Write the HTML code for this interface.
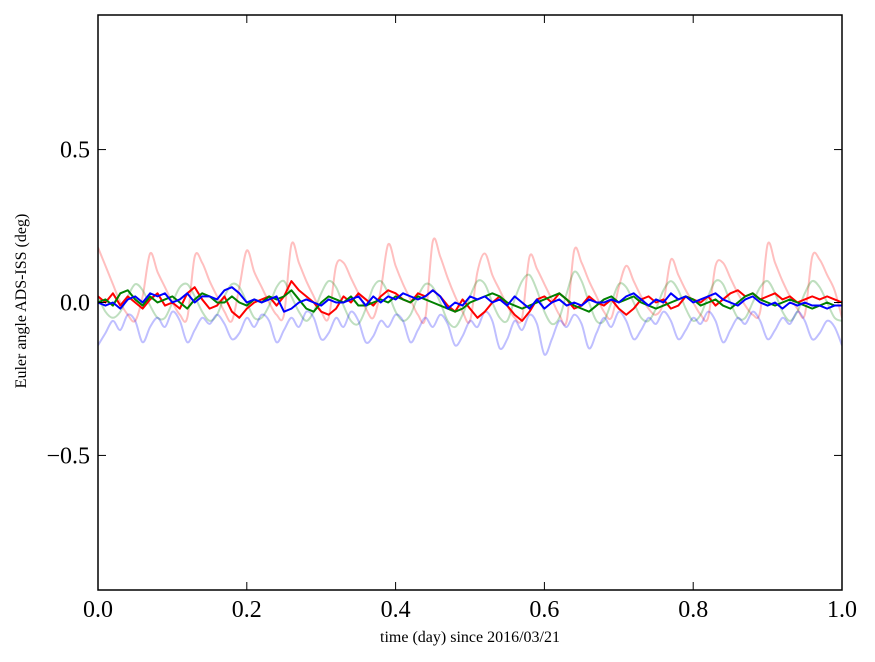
<!DOCTYPE html>
<html><head><meta charset="utf-8"><style>
html,body{margin:0;padding:0;background:#fff;}
svg{display:block;font-family:"Liberation Serif",serif;}
</style></head><body>
<svg id="chart" width="875" height="662"></svg>
<script>
const xTicks=[0.0,0.2,0.4,0.6,0.8,1.0];
const xTickLabels=["0.0","0.2","0.4","0.6","0.8","1.0"];
const yTicks=[-0.5,0.0,0.5];
const yTickLabels=["\u22120.5","0.0","0.5"];
const faintRed=[0.18,0.12,0.06,0.0,-0.04,-0.06,0.02,0.16,0.10,0.05,0.0,-0.04,-0.05,0.15,0.13,0.07,0.02,-0.03,-0.06,0.05,0.17,0.10,0.05,0.0,-0.04,-0.04,0.19,0.13,0.07,0.02,-0.03,-0.05,0.12,0.13,0.08,0.03,-0.02,-0.05,0.04,0.19,0.12,0.06,0.01,-0.04,-0.05,0.20,0.15,0.08,0.02,-0.03,-0.06,0.10,0.16,0.09,0.04,-0.01,-0.05,-0.05,0.15,0.11,0.06,0.01,-0.04,-0.06,0.17,0.13,0.07,0.02,-0.03,-0.05,0.05,0.12,0.07,0.02,-0.02,-0.04,0.0,0.14,0.09,0.04,0.0,-0.04,-0.05,0.12,0.13,0.08,0.03,-0.01,-0.04,-0.03,0.19,0.13,0.07,0.02,-0.02,-0.04,0.15,0.14,0.09,0.04,-0.05];
const faintGreen=[0.02,-0.03,-0.05,-0.03,0.02,0.06,0.04,-0.01,-0.05,-0.05,0.0,0.05,0.06,0.02,-0.03,-0.06,-0.04,0.02,0.06,0.05,0.0,-0.05,-0.05,-0.01,0.05,0.07,0.02,-0.03,-0.06,-0.03,0.03,0.07,0.05,-0.01,-0.06,-0.07,-0.02,0.05,0.07,0.03,-0.03,-0.06,-0.04,0.02,0.06,0.05,0.0,-0.06,-0.08,-0.04,0.02,0.07,0.06,0.0,-0.05,-0.06,0.01,0.07,0.09,0.04,-0.03,-0.07,-0.05,0.03,0.10,0.07,0.0,-0.06,-0.06,0.0,0.06,0.05,0.0,-0.05,-0.06,-0.02,0.04,0.07,0.04,-0.02,-0.06,-0.04,0.02,0.07,0.06,0.0,-0.05,-0.05,0.0,0.05,0.07,0.03,-0.03,-0.06,-0.03,0.03,0.07,0.05,0.0,-0.05,-0.06];
const faintBlue=[-0.14,-0.10,-0.06,-0.09,-0.04,-0.06,-0.13,-0.08,-0.05,-0.08,-0.03,-0.06,-0.13,-0.09,-0.05,-0.07,-0.04,-0.07,-0.12,-0.10,-0.05,-0.08,-0.04,-0.06,-0.13,-0.09,-0.05,-0.08,-0.03,-0.05,-0.12,-0.10,-0.05,-0.08,-0.03,-0.06,-0.13,-0.11,-0.06,-0.08,-0.04,-0.06,-0.13,-0.09,-0.05,-0.08,-0.04,-0.07,-0.14,-0.11,-0.06,-0.08,-0.03,-0.06,-0.15,-0.12,-0.06,-0.09,-0.04,-0.07,-0.17,-0.12,-0.06,-0.08,-0.04,-0.07,-0.15,-0.10,-0.05,-0.08,-0.03,-0.06,-0.12,-0.09,-0.05,-0.07,-0.03,-0.06,-0.12,-0.09,-0.05,-0.07,-0.03,-0.06,-0.13,-0.09,-0.05,-0.07,-0.03,-0.06,-0.12,-0.09,-0.05,-0.07,-0.03,-0.06,-0.12,-0.10,-0.06,-0.08,-0.14];
const solidRed=[0.02,0.0,0.03,-0.01,0.02,0.0,-0.02,0.01,0.03,-0.01,0.0,-0.02,0.03,0.05,0.01,-0.02,-0.01,0.02,-0.03,-0.05,-0.02,0.0,0.01,0.02,-0.01,0.02,0.07,0.04,0.02,0.0,-0.03,-0.04,-0.02,0.02,0.0,0.03,0.01,-0.01,0.02,0.04,0.03,0.01,0.0,0.03,0.02,0.04,0.02,-0.01,-0.03,0.01,-0.02,-0.05,-0.03,0.0,0.02,-0.01,-0.04,-0.06,-0.03,0.01,0.02,0.0,0.03,0.01,-0.02,-0.01,0.02,0.0,-0.01,0.01,-0.02,-0.04,-0.02,0.01,0.02,0.0,0.01,-0.02,-0.01,0.02,0.01,0.0,0.02,-0.01,0.01,0.03,0.04,0.02,0.03,0.01,0.02,0.03,0.01,0.02,0.0,0.01,0.02,0.01,0.02,0.01,0.0];
const solidGreen=[0.0,0.01,-0.01,0.03,0.04,0.01,-0.01,0.02,0.0,0.01,0.02,0.0,-0.02,0.01,0.03,0.02,0.0,0.0,0.02,0.0,-0.01,0.01,0.0,0.02,0.01,0.02,0.04,0.01,-0.02,-0.03,0.0,0.02,0.01,0.0,0.02,-0.01,-0.01,0.0,0.01,0.0,0.02,0.01,0.0,0.02,0.01,0.0,-0.01,-0.02,-0.03,-0.02,0.0,0.01,0.02,0.03,0.02,0.0,-0.01,-0.02,-0.01,0.0,0.01,0.02,0.03,0.01,-0.01,-0.02,-0.03,-0.01,0.01,0.02,0.0,0.01,0.02,0.0,-0.01,-0.02,-0.01,0.0,0.01,0.02,0.01,-0.01,0.0,0.01,-0.01,-0.02,0.0,0.02,0.03,0.01,0.0,-0.01,0.0,0.01,0.0,-0.01,-0.02,-0.01,0.0,-0.01,-0.01];
const solidBlue=[0.0,-0.01,0.0,-0.02,0.01,0.02,0.0,0.03,0.02,0.03,0.0,0.01,0.03,0.0,0.02,0.02,0.01,0.04,0.05,0.03,0.0,0.01,0.0,0.01,0.02,-0.03,-0.02,0.0,0.01,0.0,-0.01,0.01,0.0,0.0,0.01,0.02,-0.01,0.02,0.0,0.02,0.01,0.03,0.02,0.01,0.02,0.04,0.02,-0.02,0.0,-0.01,0.02,0.01,0.02,0.0,0.01,-0.01,0.02,0.0,-0.02,0.01,-0.02,0.0,0.01,-0.01,0.0,-0.01,0.01,0.0,0.0,0.01,0.0,0.02,0.03,0.01,-0.01,0.01,0.0,0.03,0.01,0.02,0.0,0.01,0.02,0.03,0.01,0.0,-0.01,0.01,0.02,0.0,-0.01,0.0,-0.02,0.0,-0.01,0.0,-0.01,-0.01,-0.02,-0.01,-0.01];

const NS="http://www.w3.org/2000/svg";
const svg=document.getElementById('chart');
const L=98,R=842,T=15,B=590;
const xMin=0,xMax=1,yMin=-0.94,yMax=0.94;
function sx(v){return L+(v-xMin)/(xMax-xMin)*(R-L);}
function sy(v){return B-(v-yMin)/(yMax-yMin)*(B-T);}
function mk(tag,attrs){const e=document.createElementNS(NS,tag);for(const k in attrs)e.setAttribute(k,attrs[k]);svg.appendChild(e);return e;}

const clip=document.createElementNS(NS,'clipPath');clip.setAttribute('id','pa');
const cr=document.createElementNS(NS,'rect');cr.setAttribute('x',L);cr.setAttribute('y',T);cr.setAttribute('width',R-L);cr.setAttribute('height',B-T);
clip.appendChild(cr);svg.appendChild(clip);

function series(arr,color,op,name,smooth){
  const n=arr.length;
  const pts=arr.map((v,i)=>[sx(xMin+i/(n-1)*(xMax-xMin)),sy(v)]);
  let d='M'+pts[0][0].toFixed(2)+','+pts[0][1].toFixed(2);
  for(let i=1;i<n;i++){
    if(smooth){
      const p0=pts[Math.max(0,i-2)],p1=pts[i-1],p2=pts[i],p3=pts[Math.min(n-1,i+1)];
      const c1x=p1[0]+(p2[0]-p0[0])/6,c1y=p1[1]+(p2[1]-p0[1])/6;
      const c2x=p2[0]-(p3[0]-p1[0])/6,c2y=p2[1]-(p3[1]-p1[1])/6;
      d+='C'+c1x.toFixed(2)+','+c1y.toFixed(2)+' '+c2x.toFixed(2)+','+c2y.toFixed(2)+' '+p2[0].toFixed(2)+','+p2[1].toFixed(2);
    } else d+='L'+pts[i][0].toFixed(2)+','+pts[i][1].toFixed(2);
  }
  const p=mk('path',{d:d,fill:'none',stroke:color,'stroke-width':2,'stroke-opacity':op,'stroke-linejoin':'round','clip-path':'url(#pa)'});
  
  
}
series(faintRed,'#ff0000',0.25,'faint-red-series',true);
series(faintGreen,'#008000',0.25,'faint-green-series',true);
series(faintBlue,'#0000ff',0.25,'faint-blue-series',true);
series(solidRed,'#ff0000',1,'red-series',false);
series(solidGreen,'#008000',1,'green-series',false);
series(solidBlue,'#0000ff',1,'blue-series',false);

const frame=mk('rect',{x:L,y:T,width:R-L,height:B-T,fill:'none',stroke:'#000','stroke-width':1.5});



xTicks.forEach((v,i)=>{
  const x=sx(v);
  const t1=mk('line',{x1:x,y1:B,x2:x,y2:B-8,stroke:'#000','stroke-width':1});
  
  
  const t2=mk('line',{x1:x,y1:T,x2:x,y2:T+8,stroke:'#000','stroke-width':1});
  
  
  const tx=mk('text',{x:x,y:B+27,'text-anchor':'middle','font-size':24,fill:'#000'});
  tx.textContent=xTickLabels[i];
  
  
});
yTicks.forEach((v,i)=>{
  const y=sy(v);
  const t1=mk('line',{x1:L,y1:y,x2:L+8,y2:y,stroke:'#000','stroke-width':1});
  
  
  const t2=mk('line',{x1:R,y1:y,x2:R-8,y2:y,stroke:'#000','stroke-width':1});
  
  
  const tx=mk('text',{x:L-8,y:y+8,'text-anchor':'end','font-size':24,fill:'#000'});
  tx.textContent=yTickLabels[i];
  
  
});
const xl=mk('text',{x:470,y:642,'text-anchor':'middle','font-size':16,fill:'#000'});
xl.textContent='time (day) since 2016/03/21';


const yl=mk('text',{x:0,y:0,'text-anchor':'middle','font-size':16,fill:'#000',transform:'translate(26,301) rotate(-90)'});
yl.textContent='Euler angle ADS-ISS (deg)';


</script>
</body></html>
